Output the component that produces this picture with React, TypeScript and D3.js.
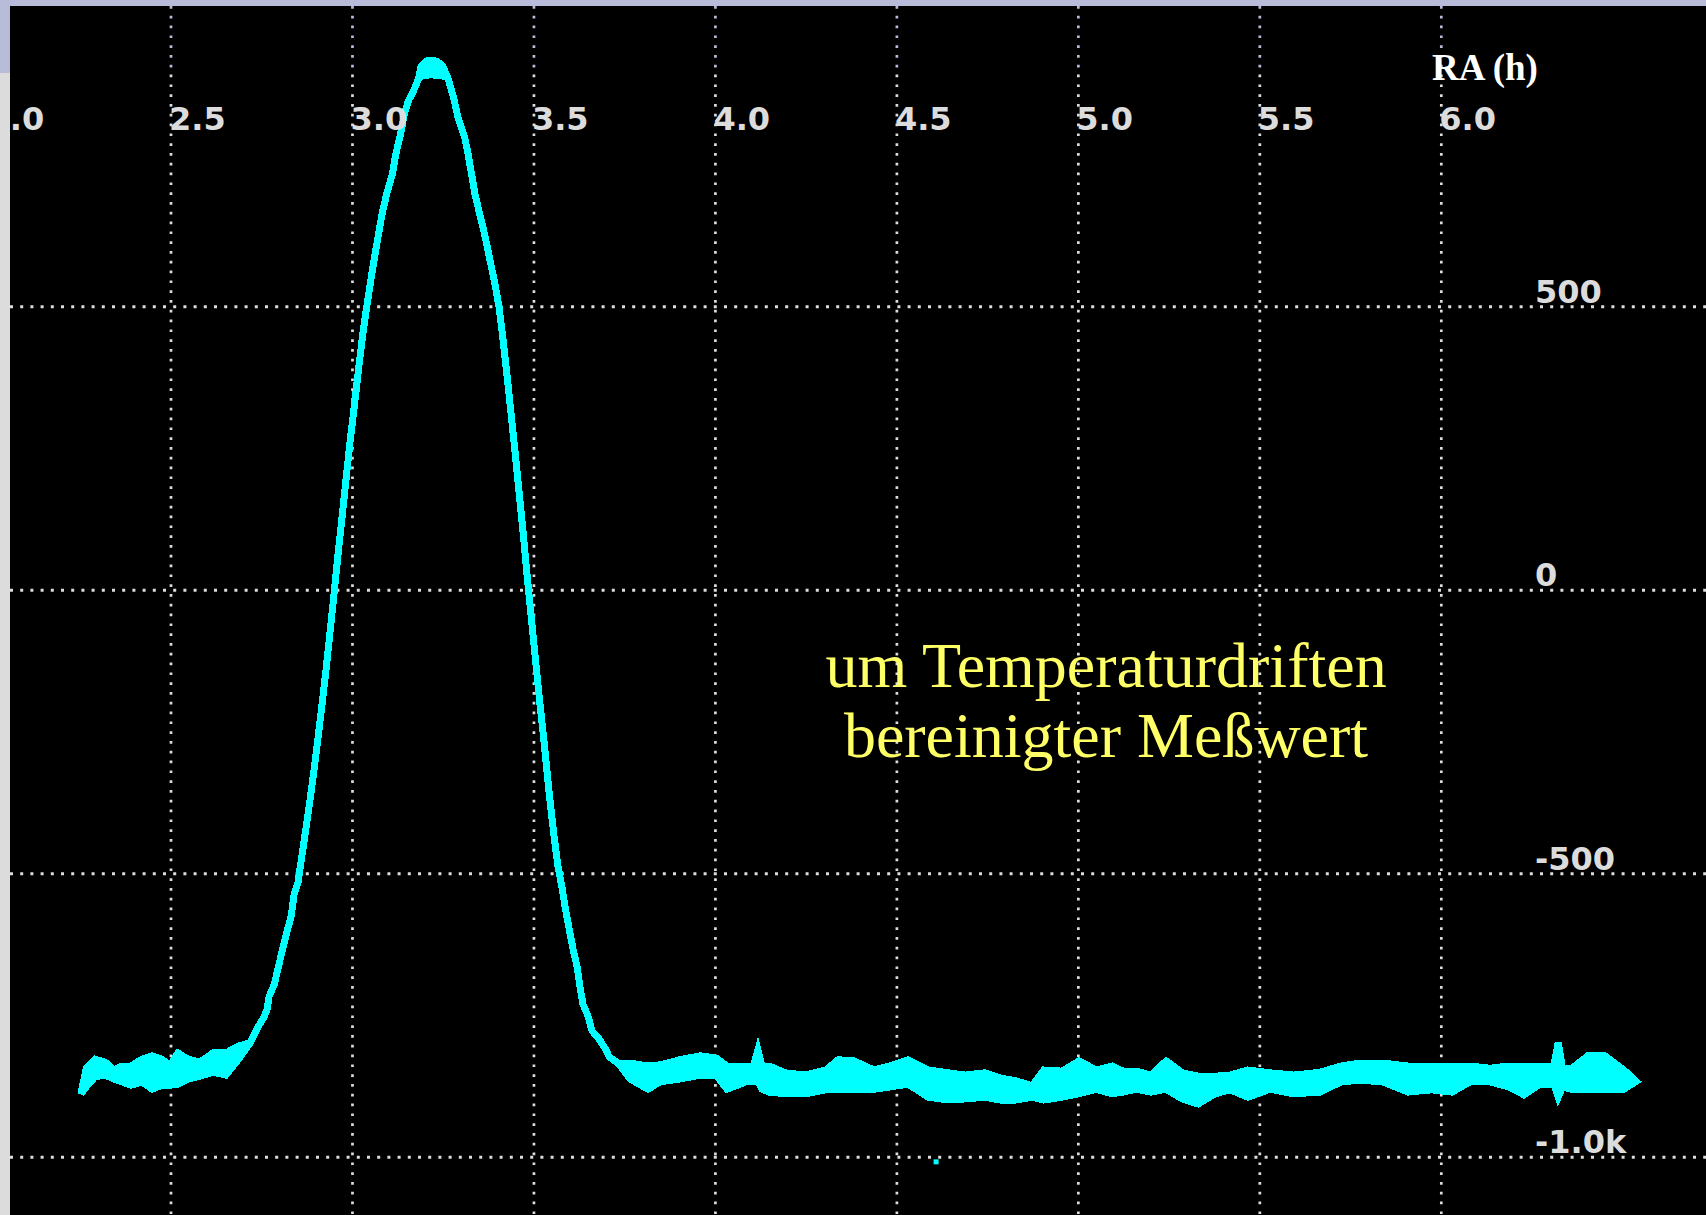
import * as d3 from 'd3';

// RA (hours) and the min/max envelope of the drift-corrected trace
const raHours = [
  2.252, 2.266, 2.291, 2.318, 2.343, 2.365, 2.39, 2.42, 2.448, 2.475, 2.497, 2.519, 2.547, 2.58, 2.616, 2.651, 2.685,
  2.718, 2.731, 2.74, 2.756, 2.765, 2.77, 2.784, 2.792, 2.803, 2.811, 2.82, 2.831, 2.839, 2.85, 2.861, 2.872, 2.883,
  2.894, 2.905, 2.916, 2.927, 2.938, 2.949, 2.96, 2.971, 2.982, 2.993, 3.007, 3.018, 3.029, 3.04, 3.054, 3.068, 3.081,
  3.095, 3.11, 3.119, 3.132, 3.143, 3.154, 3.167, 3.181, 3.189, 3.203, 3.216, 3.233, 3.249, 3.263, 3.271, 3.28, 3.291,
  3.309, 3.318, 3.327, 3.338, 3.351, 3.365, 3.379, 3.393, 3.404, 3.415, 3.426, 3.437, 3.448, 3.459, 3.47, 3.481, 3.492,
  3.503, 3.514, 3.528, 3.541, 3.555, 3.566, 3.577, 3.586, 3.597, 3.608, 3.619, 3.627, 3.635, 3.649, 3.66, 3.679, 3.699,
  3.707, 3.732, 3.765, 3.814, 3.847, 3.902, 3.958, 4.002, 4.032, 4.084, 4.105, 4.117, 4.128, 4.148, 4.192, 4.247, 4.305,
  4.338, 4.382, 4.437, 4.481, 4.531, 4.586, 4.641, 4.688, 4.743, 4.784, 4.828, 4.872, 4.905, 4.955, 5.002, 5.049, 5.093,
  5.123, 5.159, 5.2, 5.242, 5.286, 5.33, 5.377, 5.418, 5.467, 5.528, 5.594, 5.666, 5.724, 5.776, 5.839, 5.908, 5.974,
  6.03, 6.079, 6.134, 6.187, 6.228, 6.272, 6.31, 6.322, 6.334, 6.36, 6.404, 6.451, 6.503, 6.537,
];
const signalHigh = [
  -888, -844, -827, -832, -846, -839, -839, -827, -821, -827, -839, -816, -827, -832, -816, -816, -804,
  -798, -781, -770, -753, -739, -717, -696, -675, -645, -624, -601, -575, -537, -515, -467, -419, -370,
  -317, -261, -202, -141, -75, -8, 62, 127, 194, 260, 335, 397, 454, 503, 561, 614, 662,
  701, 734, 768, 803, 840, 863, 879, 900, 924, 933, 935, 933, 924, 903, 886, 865, 833,
  799, 771, 738, 697, 662, 625, 582, 538, 499, 441, 378, 311, 244, 173, 103, 27, -44,
  -114, -185, -268, -352, -432, -486, -523, -559, -597, -634, -664, -700, -730, -751, -777, -791, -811,
  -823, -834, -834, -839, -837, -828, -821, -825, -839, -839, -839, -811, -839, -839, -851, -855, -846,
  -828, -830, -846, -839, -828, -846, -851, -855, -851, -860, -865, -874, -846, -848, -830, -846, -839,
  -848, -848, -855, -830, -851, -857, -857, -855, -846, -851, -855, -850, -839, -834, -834, -839, -839,
  -839, -839, -843, -839, -839, -839, -839, -798, -843, -843, -821, -821, -846, -866,
];
const signalLow = [
  -888, -876, -858, -855, -862, -867, -873, -867, -880, -873, -873, -871, -862, -857, -850, -855, -828,
  -798, -781, -770, -753, -739, -717, -696, -675, -645, -624, -601, -575, -537, -515, -467, -419, -370,
  -317, -261, -202, -141, -75, -8, 62, 127, 194, 260, 335, 397, 454, 503, 561, 614, 662,
  701, 734, 768, 803, 840, 863, 879, 900, 907, 907, 910, 907, 907, 903, 886, 865, 833,
  799, 771, 738, 697, 662, 625, 582, 538, 499, 441, 378, 311, 244, 173, 103, 27, -44,
  -114, -185, -268, -352, -432, -486, -523, -559, -597, -634, -664, -700, -730, -751, -777, -791, -811,
  -823, -834, -862, -880, -867, -862, -855, -855, -880, -867, -867, -864, -880, -885, -888, -888, -881,
  -880, -880, -880, -876, -871, -894, -899, -897, -894, -899, -899, -894, -899, -894, -888, -880, -888,
  -885, -880, -885, -880, -897, -906, -888, -881, -894, -880, -888, -885, -867, -864, -867, -885, -881,
  -885, -867, -867, -876, -890, -871, -871, -894, -876, -880, -880, -880, -880, -866,
];

// single stray sample below the trace
const strayRa = [4.608];
const strayValue = [-1008];

const xTicks = [2.0, 2.5, 3.0, 3.5, 4.0, 4.5, 5.0, 5.5, 6.0];
const yTicks = [500, 0, -500, -1000];
const yTickLabels = ['500', '0', '-500', '-1.0k'];
const axisTitle = 'RA (h)';
const noteLines = ['um Temperaturdriften', 'bereinigter Meßwert'];

const W = 1706;
const H = 1215;
const plotLeft = 10;
const plotTop = 6;
const lavender = '#b8bcd8';
const grey = '#dcdcdc';
const cyan = '#00ffff';

export default function App() {
  const x = d3.scaleLinear().domain([2.5, 6.0]).range([171, 1441.3]);
  const y = d3.scaleLinear().domain([-1000, 500]).range([1157.3, 306.7]);

  const trace = raHours.map((ra, i) => ({ ra, hi: signalHigh[i], lo: signalLow[i] }));
  const band = d3
    .area<{ ra: number; hi: number; lo: number }>()
    .x((d) => x(d.ra))
    .y0((d) => y(d.lo))
    .y1((d) => y(d.hi));

  const fmt = d3.format('.1f');
  const tickFont = { fontFamily: 'DejaVu Sans', fontWeight: 'bold', fontSize: 32 } as const;

  return (
    <svg
      width={W}
      height={H}
      style={{ position: 'absolute', left: 0, top: 0, display: 'block' }}
    >
      <defs>
        <linearGradient id="vgrid" gradientUnits="userSpaceOnUse" x1={0} y1={0} x2={0} y2={H}>
          <stop offset={0} stopColor={lavender} />
          <stop offset={72 / H} stopColor={lavender} />
          <stop offset={72 / H} stopColor={grey} />
          <stop offset={1} stopColor={grey} />
        </linearGradient>
      </defs>

      <rect x={0} y={0} width={W} height={H} fill="#000" />

      {/* grid */}
      {xTicks.map((t) => (
        <line
          key={'vx' + t}
          x1={x(t)}
          x2={x(t)}
          y1={plotTop}
          y2={H}
          stroke="url(#vgrid)"
          strokeWidth={2.7}
          strokeDasharray="2.7 7.1"
        />
      ))}
      {yTicks.map((t) => (
        <line
          key={'hy' + t}
          x1={plotLeft}
          x2={W}
          y1={y(t)}
          y2={y(t)}
          stroke={grey}
          strokeWidth={3}
          strokeDasharray="3 7.2"
        />
      ))}

      {/* trace */}
      <path
        d={band(trace) || ''}
        fill={cyan}
        stroke={cyan}
        strokeWidth={7}
        strokeLinejoin="miter"
        shapeRendering="crispEdges"
      />
      {strayRa.map((ra, i) => (
        <rect key={'s' + i} x={x(ra) - 2.5} y={y(strayValue[i]) - 2.5} width={5} height={5} fill={cyan} />
      ))}

      {/* tick labels */}
      {xTicks.map((t) => (
        <text key={'lx' + t} x={x(t) - 2} y={130} fill={grey} style={tickFont}>
          {fmt(t)}
        </text>
      ))}
      {yTicks.map((t, i) => (
        <text key={'ly' + t} x={1535} y={y(t) - 4} fill={grey} style={tickFont}>
          {yTickLabels[i]}
        </text>
      ))}

      <text
        x={1432}
        y={80}
        fill="#ffffff"
        style={{ fontFamily: 'Liberation Serif', fontWeight: 'bold', fontSize: 37 }}
      >
        {axisTitle}
      </text>

      {noteLines.map((line, i) => (
        <text
          key={line}
          x={1106}
          y={687 + i * 70}
          textAnchor="middle"
          fill="#ffff66"
          style={{ fontFamily: 'Liberation Serif', fontSize: 64 }}
        >
          {line}
        </text>
      ))}

      {/* window frame strips */}
      <rect x={0} y={0} width={W} height={plotTop} fill={lavender} />
      <rect x={0} y={0} width={plotLeft} height={73} fill={lavender} />
      <rect x={0} y={73} width={plotLeft} height={H - 73} fill={grey} />
    </svg>
  );
}
